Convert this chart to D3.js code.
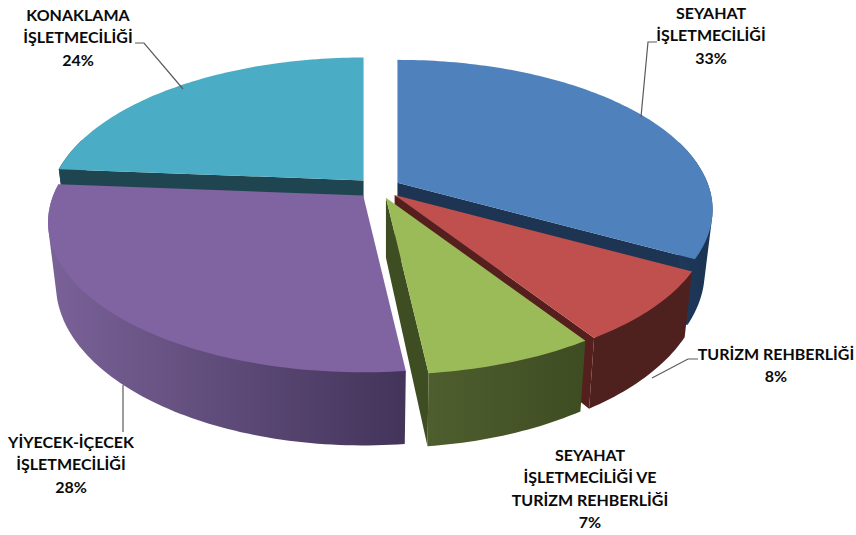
<!DOCTYPE html>
<html>
<head>
<meta charset="utf-8">
<script src="https://cdn.jsdelivr.net/npm/d3@7"></script>
<style>
  html, body { margin: 0; padding: 0; background: #fff; }
  svg { display: block; }
  text { font-family: Lato, "Open Sans", sans-serif; font-weight: 700; font-size: 16px; fill: #0a0a0a; }
</style>
</head>
<body>
<svg id="chart" width="856" height="535"></svg>
<script>
// chart data, clockwise from 12 o'clock
const labels = [
  ['SEYAHAT', 'İŞLETMECİLİĞİ'],
  ['TURİZM REHBERLİĞİ'],
  ['SEYAHAT', 'İŞLETMECİLİĞİ VE', 'TURİZM REHBERLİĞİ'],
  ['YİYECEK-İÇECEK', 'İŞLETMECİLİĞİ'],
  ['KONAKLAMA', 'İŞLETMECİLİĞİ']
];
// unrounded estimates, the labels show them rounded
const values = [33, 7.8, 7.4, 28.05, 23.75];

const topColors = ['#4f81bd', '#c0504d', '#9bbb59', '#8064a2', '#4bacc6'];
const cutColors = ['#1d3553', '#551f1e', '#3f4d23', '#43345a', '#1f4650'];
const wallLight = ['#1f3a5c', '#4e201e', '#4f5e2e', '#7a6298', '#1f4650'];
const wallDark = ['#1c3352', '#4e201e', '#3e4c22', '#43345a', '#1f4650'];

// label placement: center x, first baseline y, leader line points
const labelX = [711, 776, 590, 71, 78];
const labelY = [19, 360, 461, 448, 21];
const leaders = [
  [[657, 42], [648, 42], [641, 117]],
  [[698, 359], [688, 359], [652, 378]],
  [],
  [[123, 432], [123, 385]],
  [[135, 43], [144, 43], [183, 89]]
];
const lineHeight = 22.3;

// pie geometry
const cx = 378.5, cy = 188;
const rx = 310, ry = 145;
const persp = 0.18;      // how much closer points grow
const depth = 60;
const bottomShrink = 0.975;
const explode = 22, explodeSquash = 0.47;
const wallOverrun = 0.3; // wall runs a bit past the sides so the silhouette closes

const svg = d3.select('#chart');
const defs = svg.append('defs');
const pathLine = d3.line();

const slices = d3.pie().sort(null).value(d => d)(values);

slices.forEach((s, i) => {
  const mid = (s.startAngle + s.endAngle) / 2;
  s.ox = cx + explode * Math.sin(mid);
  s.oy = cy - explode * explodeSquash * Math.cos(mid);
  s.index = i;
});

// angle clockwise from the top -> screen point on the top face
function onTop(s, a) {
  const X = Math.sin(a), Y = -Math.cos(a);
  const k = 1 / (1 - persp * Y);
  return [s.ox + rx * X * k, s.oy + ry * Y * k, k];
}

function onBottom(s, p) {
  return [s.ox + (p[0] - s.ox) * bottomShrink, p[1] + depth * p[2]];
}

function arcPoints(s, a0, a1) {
  const n = Math.max(2, Math.ceil((a1 - a0) / 0.02));
  return d3.range(n + 1).map(j => onTop(s, a0 + (a1 - a0) * j / n));
}

function drawSlice(s) {
  const i = s.index;
  const g = svg.append('g').attr('class', 'slice');
  const apex = [s.ox, s.oy, 1];

  // cut faces
  const faces = [];
  if (Math.sin(s.startAngle) < -1e-6) faces.push(s.startAngle);
  if (Math.sin(s.endAngle) > 1e-6) faces.push(s.endAngle);
  faces.forEach(a => {
    const c = onTop(s, a);
    g.append('path')
      .attr('d', pathLine([apex, c, onBottom(s, c), onBottom(s, apex)].map(p => p.slice(0, 2))) + 'Z')
      .attr('fill', cutColors[i]);
  });

  // outer wall, only the part facing the viewer
  const a0 = Math.max(s.startAngle, Math.PI / 2 - wallOverrun);
  const a1 = Math.min(s.endAngle, Math.PI * 1.5 + wallOverrun);
  if (a1 > a0) {
    const top = arcPoints(s, a0, a1);
    // hull so the sides run straight from the top rim to the bottom rim
    const band = d3.polygonHull(top.map(p => p.slice(0, 2)).concat(top.map(p => onBottom(s, p))));
    const xs = d3.extent(band, p => p[0]);
    const grad = defs.append('linearGradient')
      .attr('id', 'wall' + i)
      .attr('gradientUnits', 'userSpaceOnUse')
      .attr('x1', xs[0]).attr('x2', xs[1])
      .attr('y1', 0).attr('y2', 0);
    grad.append('stop').attr('offset', 0).attr('stop-color', wallLight[i]);
    grad.append('stop').attr('offset', 1).attr('stop-color', wallDark[i]);
    g.append('path')
      .attr('d', pathLine(band) + 'Z')
      .attr('fill', `url(#wall${i})`);
  }

  // top face
  const topFace = [apex.slice(0, 2)]
    .concat(arcPoints(s, s.startAngle, s.endAngle).map(p => p.slice(0, 2)));
  g.append('path')
    .attr('d', pathLine(topFace) + 'Z')
    .attr('fill', topColors[i]);
}

// back to front
[4, 0, 3, 1, 2].forEach(i => drawSlice(slices[i]));

// leader lines
svg.append('g').selectAll('path')
  .data(leaders.filter(d => d.length))
  .join('path')
  .attr('d', d => pathLine(d))
  .attr('fill', 'none')
  .attr('stroke', '#5a5a5a')
  .attr('stroke-width', 1.2);

// labels
const labelG = svg.append('g').selectAll('text')
  .data(values)
  .join('text')
  .attr('text-anchor', 'middle')
  .attr('x', (d, i) => labelX[i])
  .attr('y', (d, i) => labelY[i]);

labelG.selectAll('tspan')
  .data((d, i) => labels[i].concat(Math.round(d) + '%').map(t => ({ t, i })))
  .join('tspan')
  .attr('x', d => labelX[d.i])
  .attr('dy', (d, j) => j === 0 ? 0 : lineHeight)
  .text(d => d.t);
</script>
</body>
</html>
